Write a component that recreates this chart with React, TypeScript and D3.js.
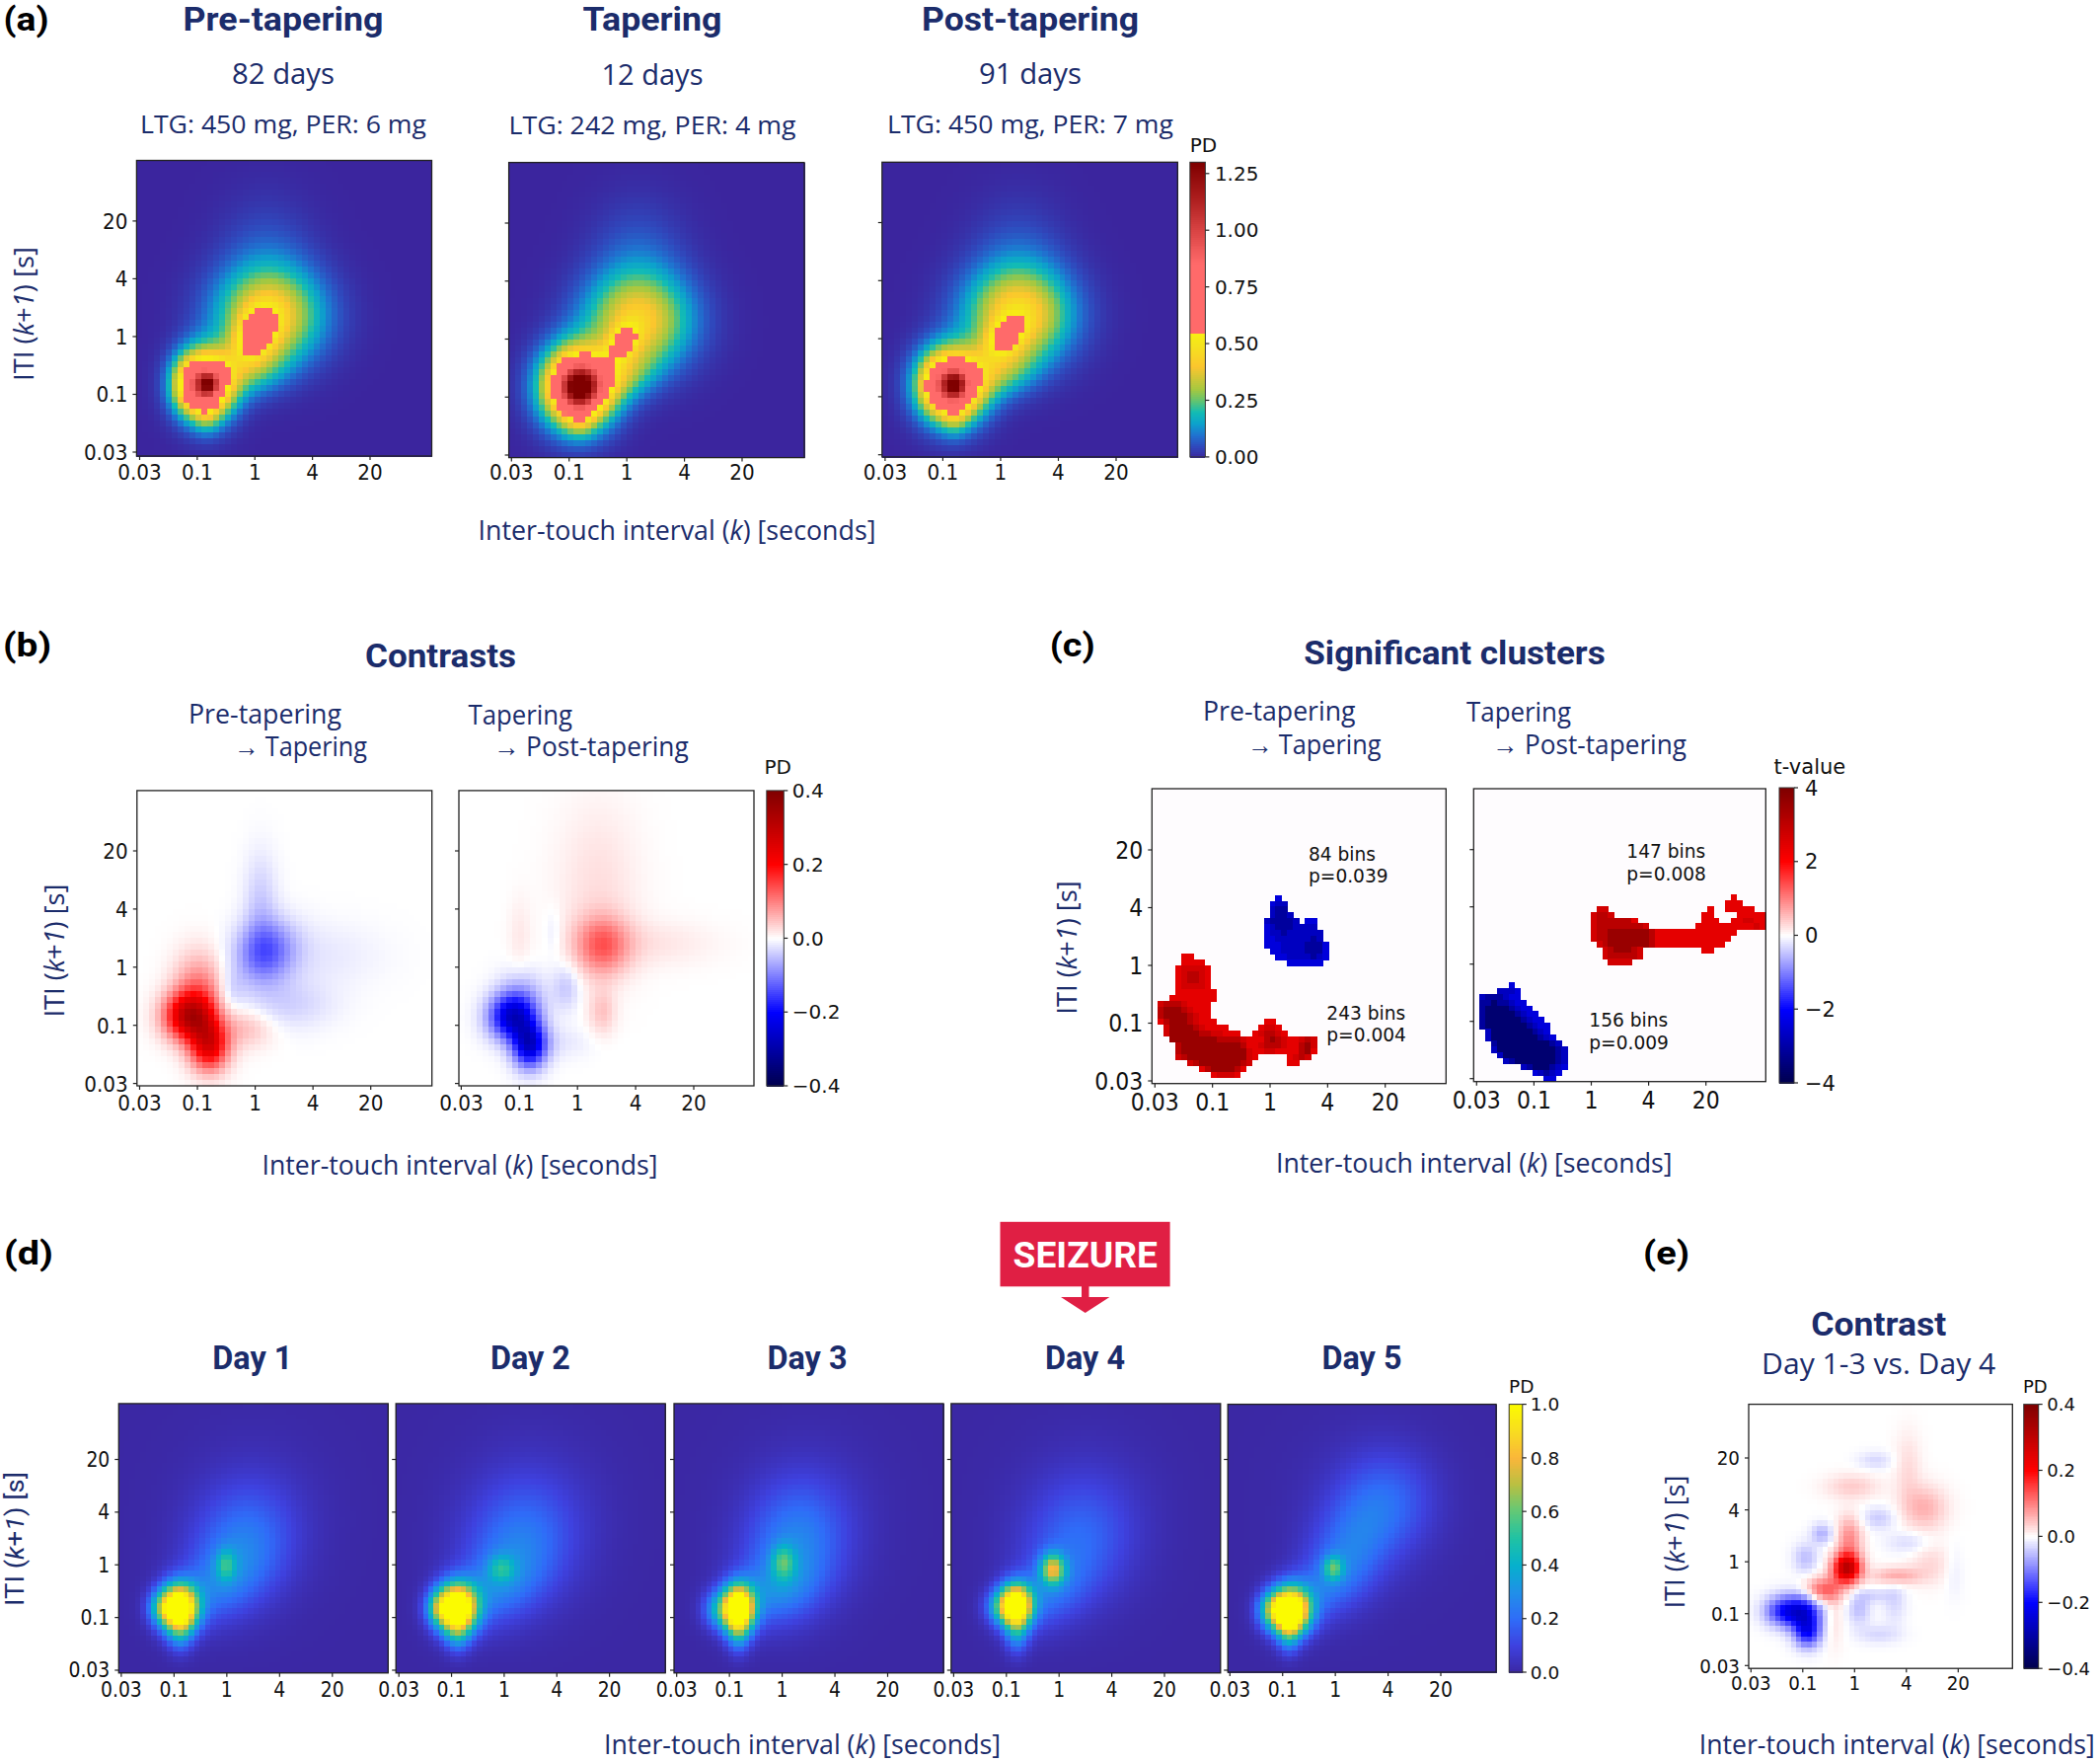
import React from "react";
import * as d3 from "d3";

// Density and contrast maps: the picture's 50x50 grids cannot be read cell by cell, so each map is
// stored as the peaks read off it: [x, y, spreadX, spreadY, tilt, height], position in tick steps
// (0 = 0.03, 1 = 0.1, 2 = 1, 3 = 4, 4 = 20). The cells are estimates built from those peaks.
// The cluster maps in (c) are discrete and stored cell by cell.
type Peak = number[];
const preTapering: Peak[] = [[1.15,1.17,.33,.40,0,.85],[1.2,1.17,.12,.13,0,.42],[.85,1.17,.2,.3,0,.22],[1.17,.65,.15,.22,0,.1],[2.0,2.03,.25,.3,.3,.36],[2.25,2.35,.62,.55,0,.42],[1.95,1.45,.42,.33,.2,.2],[2.2,3.2,.55,.75,0,.07]];
const tapering: Peak[] = [[1.15,1.18,.42,.46,0,.92],[1.2,1.18,.22,.23,0,.52],[1.2,.62,.17,.22,0,.1],[1.94,1.96,.17,.2,.3,.29],[2.2,2.3,.62,.55,0,.40],[1.9,1.4,.42,.33,.2,.2],[2.2,3.2,.55,.75,0,.08]];
const postTapering: Peak[] = [[1.15,1.2,.38,.42,0,.88],[1.2,1.2,.14,.16,0,.45],[.85,1.2,.18,.28,0,.14],[1.2,.65,.15,.22,0,.1],[2.05,2.02,.23,.24,.3,.29],[2.3,2.4,.62,.55,0,.44],[2.0,1.45,.42,.33,.2,.22],[2.3,3.2,.55,.75,0,.07]];
const day1: Peak[] = [[1.1,1.18,.24,.3,0,1.3],[.75,1.18,.18,.22,0,.3],[1.12,.7,.16,.26,0,.2],[1.98,2.0,.13,.2,0,.25],[2.3,2.4,.65,.75,.1,.21],[1.8,1.6,.55,.5,.3,.17],[2.5,3,1,1.1,0,.03]];
const day2: Peak[] = [[1.1,1.18,.26,.31,0,1.3],[.75,1.18,.18,.22,0,.3],[1.12,.7,.16,.26,0,.22],[1.95,1.93,.17,.17,0,.22],[2.3,2.4,.7,.8,.1,.2],[1.8,1.55,.55,.5,.3,.18],[2.5,3,1,1.1,0,.04]];
const day3: Peak[] = [[1.17,1.17,.21,.3,0,1.28],[.78,1.15,.2,.24,0,.28],[1.17,.72,.15,.28,0,.24],[2.02,2.05,.15,.22,0,.3],[2.25,2.4,.65,.8,.1,.24],[1.85,1.5,.55,.45,.2,.19],[2.5,3,1,1.1,0,.03]];
const day4: Peak[] = [[1.18,1.23,.21,.27,0,1.22],[.85,1.2,.2,.22,0,.24],[1.2,.72,.15,.28,0,.26],[1.88,1.92,.16,.2,0,.6],[2.35,2.45,.7,.8,.1,.17],[1.75,1.45,.5,.48,.3,.17],[2.5,3,1,1.1,0,.03]];
const day5: Peak[] = [[1.15,1.13,.25,.3,0,1.35],[.8,1.15,.2,.24,0,.38],[1.12,.68,.14,.25,0,.25],[1.96,1.94,.13,.16,0,.36],[2.3,2.35,.55,.7,.2,.18],[3.0,3.2,.6,.65,0,.15],[1.75,1.55,.5,.48,.4,.16],[2.6,3.1,1,1.1,0,.03]];
const contrastPreTaper: Peak[] = [[.85,1.15,.3,.28,0,.27],[1.2,.65,.24,.3,0,.24],[1.02,1.6,.3,.45,0,.1],[1.85,.95,.33,.24,0,.05],[2.18,2.25,.36,.38,.1,-.125],[2.1,3.1,.2,.6,0,-.04],[2.55,1.35,.55,.3,0,-.035],[3.1,2.2,.75,.4,0,-.018],[1.6,1.6,.15,.25,0,-.03]];
const contrastTaperPost: Peak[] = [[.88,1.14,.28,.27,0,-.25],[1.17,.65,.2,.27,0,-.24],[1.05,1.55,.28,.3,0,-.05],[1.6,.7,.45,.2,0,-.02],[2.42,2.36,.33,.36,0,.115],[3.3,2.4,.75,.28,0,.02],[2.35,3.4,.5,1,0,.025],[1.8,1.65,.17,.28,0,-.045],[2.42,1.22,.17,.28,0,.045],[1.0,2.5,.14,.5,0,.017],[1.58,2.6,.1,.3,0,-.018]];
const contrastSeizure: Peak[] = [[1.03,1.02,.24,.24,0,-.2],[.62,1.05,.25,.2,0,-.16],[1.1,.62,.18,.2,0,-.16],[1.85,1.87,.19,.2,0,.3],[1.4,1.45,.25,.17,0,.13],[1.9,2.45,.17,.3,0,.09],[2.8,1.73,.32,.12,0,.07],[3.47,1.97,.28,.28,0,.03],[1.6,.9,.13,.4,0,.025],[1.95,3.45,.36,.17,0,.04],[3.35,3.04,.3,.3,0,.06],[3.03,3.78,.18,.5,0,.028],[1.38,2.54,.15,.14,0,-.06],[1.06,2.07,.17,.2,0,-.05],[2.08,1.09,.16,.22,0,-.05],[2.46,.6,.3,.13,0,-.03],[2.77,1.23,.16,.3,0,-.03],[2.35,1.35,.25,.1,0,-.03],[2.46,2.84,.24,.15,0,-.04],[3.06,2.37,.3,.15,0,-.03],[2.4,3.95,.24,.12,0,-.03],[3.92,1.83,.13,.35,0,-.015]];

// t-value levels per cell: [row from the top, first column, levels]
type Run = [number, number, string];
const clusterLevels = [0, 2.4, 2.7, 3.1, 3.6];
const preRed: Run[] = [[28,5,"11"],[29,5,"1111"],[30,4,"122221"],[31,4,"123321"],[32,4,"123321"],[33,4,"122221"],[34,4,"1111111"],[35,3,"11111111"],[36,1,"233321111"],[37,1,"344432111"],[38,1,"344443211"],[39,1,"1344432111"],[39,19,"11"],[40,2,"24444321111"],[40,18,"1221"],[41,2,"2444443322111"],[41,17,"123321"],[42,3,"4444444433332"],[42,16,"111343211232"],[43,4,"344444444443"],[43,16,"112333211342"],[44,4,"344444444444"],[44,16,"211221111341"],[45,4,"23444444444421"],[45,23,"1232"],[46,6,"23444444432"],[46,23,"11"],[47,8,"13444431"],[48,10,"12221"]];
const preBlue: Run[] = [[18,21,"1"],[19,20,"122"],[20,20,"233"],[21,20,"2332"],[22,19,"233332"],[22,26,"11"],[23,19,"123332222"],[24,19,"1223222222"],[25,19,"1122222232"],[26,19,"11122223331"],[27,20,"1122223331"],[28,21,"112222321"],[29,23,"111111"]];
const postRed: Run[] = [[18,44,"1"],[19,43,"111"],[20,21,"22"],[20,40,"1"],[20,43,"11111"],[21,20,"2332"],[21,39,"11"],[21,45,"11111"],[22,20,"23333331"],[22,39,"111"],[22,44,"112211"],[23,20,"2333333332"],[23,38,"111111111121"],[24,20,"2334444444311111111111111"],[25,20,"233444444431111111111111"],[26,21,"2344444443111111111111"],[27,22,"2344432"],[27,39,"11"],[28,22,"2333332"],[29,23,"2222"]];
const postBlue: Run[] = [[33,6,"1"],[34,4,"2221"],[35,1,"2333211"],[36,1,"33433211"],[37,1,"344443211"],[38,1,"3444443211"],[39,1,"34444443211"],[40,1,"344444443211"],[41,2,"24444444321"],[42,2,"244444444321"],[43,3,"344444444432"],[44,3,"2444444444432"],[45,4,"244444444432"],[46,5,"23444444432"],[47,8,"23444321"],[48,10,"12321"],[49,12,"11"]];

const xTickLabels = ["0.03", "0.1", "1", "4", "20"];
const pdTicks = [0, 0.25, 0.5, 0.75, 1, 1.25];
const diffTicks = [-0.4, -0.2, 0, 0.2, 0.4];
const tTicks = [-4, -2, 0, 2, 4];
const dayTicks = [0, 0.2, 0.4, 0.6, 0.8, 1];

const turboStops = [0, .05, .1, .15, .2, .25, .3, .4, .5, .544, .546, .85, 1.0, 1.15, 1.3];
const turboColors = ["#3b259e", "#2f49bd", "#1f73d0", "#0ca2cc", "#12bcb4", "#62c470", "#a5c840", "#fbc52e", "#f4e51c", "#f8ee12", "#ff6a6a", "#ff6a6a", "#d94444", "#aa1c1c", "#7f0000"];
const parulaStops = [0, .1, .2, .3, .4, .5, .6, .7, .8, .9, 1];
const parulaColors = ["#3b28a4", "#3e41df", "#2f6cf8", "#2090e8", "#06b0cc", "#1fc2a4", "#60c878", "#b8c042", "#fab63a", "#f8dc20", "#fbfb00"];
const seismicStops = [-1, -.5, 0, .5, 1];
const seismicColors = ["#00004c", "#0000ff", "#ffffff", "#ff0000", "#7f0000"];

const cmap = (stops: number[], colors: string[]) =>
  d3.scaleLinear<string>().domain(stops).range(colors).interpolate(d3.interpolateRgb).clamp(true);
const pdColor = cmap(turboStops, turboColors);
const dayColor = cmap(parulaStops, parulaColors);
const diffColor = cmap(seismicStops.map((s) => s * 0.4), seismicColors);
const tColor = cmap(seismicStops.map((s) => s * 4), seismicColors);

const NAVY = "#1b2c6b";
const SANS = "'Open Sans', sans-serif";
const HEAD = "Roboto, sans-serif";
const MONO = "'DejaVu Sans', sans-serif";
const BINS = d3.range(50);

const peakValue = (peaks: Peak[], u: number, v: number) =>
  d3.sum(peaks, ([cx, cy, sx, sy, rho, amp]) => {
    const a = (u - cx) / sx, b = (v - cy) / sy;
    return amp * Math.exp((-0.5 * (a * a + b * b - 2 * rho * a * b)) / (1 - rho * rho));
  });

type Box = { x0: number; x1: number; y0: number; y1: number; tx: number[]; ty: number[] };
const labelWidth = (s: string, fs: number) => d3.sum(s.split(""), (c) => (c === "." ? 0.318 : 0.636)) * fs;

function Frame({ b, fs, lab, yLabels, children }: { b: Box; fs: number; lab: number; yLabels: boolean; children?: React.ReactNode }) {
  const xU = d3.scaleLinear().domain([0, 4]).range(b.tx);
  const yU = d3.scaleLinear().domain([0, 4]).range(b.ty);
  const tall = fs * 1.1;
  return (
    <g>
      {children}
      <rect x={b.x0} y={b.y0} width={b.x1 - b.x0} height={b.y1 - b.y0} fill="none" stroke="#222" strokeWidth={1.3} />
      {xTickLabels.map((t, i) => (
        <g key={t}>
          <line x1={xU(i)} x2={xU(i)} y1={b.y1} y2={b.y1 + 4} stroke="#222" strokeWidth={1.2} />
          <text x={xU(i)} y={lab} textAnchor="middle" fontFamily={MONO} fontSize={tall} fill="#111" textLength={labelWidth(t, fs)} lengthAdjust="spacingAndGlyphs">{t}</text>
          <line x1={b.x0 - 4} x2={b.x0} y1={yU(i)} y2={yU(i)} stroke="#222" strokeWidth={1.2} />
          {yLabels && <text x={b.x0 - 9} y={yU(i) + tall * 0.36} textAnchor="end" fontFamily={MONO} fontSize={tall} fill="#111" textLength={labelWidth(t, fs)} lengthAdjust="spacingAndGlyphs">{t}</text>}
        </g>
      ))}
    </g>
  );
}

function Heat({ b, peaks, color, fs, lab, yLabels }: { b: Box; peaks: Peak[]; color: (v: number) => string; fs: number; lab: number; yLabels: boolean }) {
  const xU = d3.scaleLinear().domain([0, 4]).range(b.tx);
  const yU = d3.scaleLinear().domain([0, 4]).range(b.ty);
  const xB = d3.scaleBand<number>().domain(BINS).range([b.x0, b.x1]);
  const yB = d3.scaleBand<number>().domain(BINS).range([b.y0, b.y1]);
  const w = xB.bandwidth(), h = yB.bandwidth();
  return (
    <Frame b={b} fs={fs} lab={lab} yLabels={yLabels}>
      <g shapeRendering="crispEdges">
        {BINS.map((r) =>
          BINS.map((c) => (
            <rect key={r * 50 + c} x={xB(c)} y={yB(r)} width={w + 0.6} height={h + 0.6}
              fill={color(peakValue(peaks, xU.invert(xB(c)! + w / 2), yU.invert(yB(r)! + h / 2)))} />
          ))
        )}
      </g>
    </Frame>
  );
}

function Clusters({ b, red, blue, fs, lab, yLabels }: { b: Box; red: Run[]; blue: Run[]; fs: number; lab: number; yLabels: boolean }) {
  const xB = d3.scaleBand<number>().domain(BINS).range([b.x0, b.x1]);
  const yB = d3.scaleBand<number>().domain(BINS).range([b.y0, b.y1]);
  const cells = (runs: Run[], sign: number) =>
    runs.flatMap(([r, c0, s]) =>
      s.split("").map((ch, i) => (
        <rect key={`${sign}-${r}-${c0 + i}`} x={xB(c0 + i)} y={yB(r)} width={xB.bandwidth() + 0.5} height={yB.bandwidth() + 0.5}
          fill={tColor(sign * clusterLevels[+ch])} />
      ))
    );
  return (
    <Frame b={b} fs={fs} lab={lab} yLabels={yLabels}>
      <rect x={b.x0} y={b.y0} width={b.x1 - b.x0} height={b.y1 - b.y0} fill="#fefcfe" />
      <g shapeRendering="crispEdges">
        {cells(red, 1)}
        {cells(blue, -1)}
      </g>
    </Frame>
  );
}

function ColorBar({ x0, x1, y0, y1, domain, ticks, color, fmt, fs, label, labelX, labelY, labelPad }: {
  x0: number; x1: number; y0: number; y1: number; domain: [number, number]; ticks: number[]; color: (v: number) => string;
  fmt: (v: number) => string; fs: number; label: string; labelX: number; labelY: number; labelPad: number;
}) {
  const y = d3.scaleLinear().domain(domain).range([y1, y0]);
  const steps = d3.range(0, 150);
  const st = (y1 - y0) / 150;
  return (
    <g>
      <g shapeRendering="crispEdges">
        {steps.map((i) => (
          <rect key={i} x={x0} y={y1 - (i + 1) * st} width={x1 - x0} height={st + 0.6} fill={color(y.invert(y1 - (i + 0.5) * st))} />
        ))}
      </g>
      <rect x={x0} y={y0} width={x1 - x0} height={y1 - y0} fill="none" stroke="#333" strokeWidth={1} />
      {ticks.map((t) => (
        <g key={t}>
          <line x1={x1} x2={x1 + 4} y1={y(t)} y2={y(t)} stroke="#222" strokeWidth={1.2} />
          <text x={x1 + labelPad} y={y(t) + fs * 0.36} fontFamily={MONO} fontSize={fs} fill="#111">{fmt(t).replace("-", "\u2212")}</text>
        </g>
      ))}
      <text x={labelX} y={labelY} fontFamily={MONO} fontSize={fs} fill="#111">{label}</text>
    </g>
  );
}

function T({ x, y, w, s, size = 27, bold = false, color = NAVY, anchor = "middle" }: { x: number; y: number; w: number; s: string; size?: number; bold?: boolean; color?: string; anchor?: string }) {
  return (
    <text x={x} y={y} textAnchor={anchor} fontFamily={bold ? HEAD : SANS} fontSize={size} fontWeight={bold ? 700 : 400} fill={color} textLength={w} lengthAdjust="spacingAndGlyphs">{s}</text>
  );
}

function XLabel({ x, y, w }: { x: number; y: number; w: number }) {
  return (
    <text x={x} y={y} textAnchor="middle" fontFamily={SANS} fontSize={27} fill={NAVY} textLength={w} lengthAdjust="spacingAndGlyphs">
      Inter-touch interval (<tspan fontStyle="italic">k</tspan>) [seconds]
    </text>
  );
}

function YLabel({ x, y, len, family = SANS, size = 27 }: { x: number; y: number; len: number; family?: string; size?: number }) {
  return (
    <text transform={`translate(${x},${y}) rotate(-90)`} textAnchor="middle" fontFamily={family} fontSize={size} fill={NAVY} textLength={len} lengthAdjust="spacingAndGlyphs">
      ITI (<tspan fontStyle="italic">k</tspan>+<tspan fontStyle="italic">1</tspan>) [s]
    </text>
  );
}

const f2 = (v: number) => v.toFixed(2);
const f1 = (v: number) => v.toFixed(1);
const f0 = (v: number) => v.toFixed(0);

export default function App() {
  const a1: Box = { x0: 138.4, x1: 437.5, y0: 162.5, y1: 462, tx: [141.5, 375], ty: [458, 223.9] };
  const a2: Box = { x0: 515.6, x1: 815, y0: 164.6, y1: 463.6, tx: [518.3, 752], ty: [461, 226] };
  const a3: Box = { x0: 893.8, x1: 1193.3, y0: 164.3, y1: 462.9, tx: [896.9, 1131], ty: [460.7, 225.5] };
  const b1: Box = { x0: 138.8, x1: 437.7, y0: 800.9, y1: 1100, tx: [141.5, 375.7], ty: [1097.6, 862] };
  const b2: Box = { x0: 465, x1: 764, y0: 800.9, y1: 1100, tx: [467.4, 703], ty: [1097.6, 862] };
  const c1: Box = { x0: 1167.3, x1: 1465.3, y0: 799, y1: 1097.7, tx: [1170.3, 1403.7], ty: [1095, 861] };
  const c2: Box = { x0: 1493.3, x1: 1789.3, y0: 799, y1: 1095.7, tx: [1496.3, 1728.7], ty: [1092.7, 860.7] };
  const dy = { y0: 1421.9, y1: 1694.8, ty: [1692, 1478.5] };
  const d1: Box = { x0: 120.3, x1: 393.3, tx: [122.9, 336.8], ...dy };
  const d2: Box = { x0: 401.2, x1: 674.2, tx: [404.2, 617.6], ...dy };
  const d3b: Box = { x0: 683, x1: 956, tx: [685.7, 899.5], ...dy };
  const d4: Box = { x0: 963.8, x1: 1236.8, tx: [966.4, 1180], ...dy };
  const d5: Box = { x0: 1244.2, x1: 1516.1, y0: 1422.6, y1: 1694, ty: [1692, 1478.5], tx: [1246.3, 1460] };
  const e: Box = { x0: 1772, x1: 2039.3, y0: 1422.6, y1: 1690.2, tx: [1774.3, 1984.3], ty: [1687.3, 1477] };

  return (
    <svg width={2128} height={1785} viewBox="0 0 2128 1785" style={{ position: "absolute", left: 0, top: 0, background: "#fff" }}>
      <T x={3.5} y={31} w={46} s="(a)" size={33} bold color="#000" anchor="start" />
      <T x={3} y={665} w={49} s="(b)" size={33} bold color="#000" anchor="start" />
      <T x={1063.7} y={665} w={46} s="(c)" size={33} bold color="#000" anchor="start" />
      <T x={4} y={1281} w={50} s="(d)" size={33} bold color="#000" anchor="start" />
      <T x={1665} y={1281} w={47} s="(e)" size={33} bold color="#000" anchor="start" />

      <T x={287} y={30.5} w={203} s="Pre-tapering" size={32.5} bold />
      <T x={661} y={31} w={141} s="Tapering" size={32.5} bold />
      <T x={1044} y={30.5} w={220} s="Post-tapering" size={32.5} bold />
      <T x={287} y={85} w={104} s="82 days" size={30} />
      <T x={661} y={86} w={103} s="12 days" size={30} />
      <T x={1044} y={85} w={104} s="91 days" size={30} />
      <T x={287} y={135} w={290} s="LTG: 450 mg, PER: 6 mg" size={26} />
      <T x={661} y={136} w={291} s="LTG: 242 mg, PER: 4 mg" size={26} />
      <T x={1044} y={135} w={290} s="LTG: 450 mg, PER: 7 mg" size={26} />
      <Heat b={a1} peaks={preTapering} color={pdColor} fs={20} lab={486.4} yLabels />
      <Heat b={a2} peaks={tapering} color={pdColor} fs={20} lab={486.4} yLabels={false} />
      <Heat b={a3} peaks={postTapering} color={pdColor} fs={20} lab={486.4} yLabels={false} />
      <ColorBar x0={1205.8} x1={1221.4} y0={164.3} y1={462.9} domain={[0, 1.3]} ticks={pdTicks} color={pdColor} fmt={f2} fs={20} label="PD" labelX={1205.8} labelY={154} labelPad={9.5} />
      <YLabel x={33.5} y={318} len={136} />
      <XLabel x={686} y={547} w={403} />

      <T x={446.5} y={675.5} w={153} s="Contrasts" size={33} bold />
      <T x={191} y={732.5} w={155} s="Pre-tapering" anchor="start" />
      <T x={237} y={766} w={135} s="→ Tapering" anchor="start" />
      <T x={474.5} y={733.6} w={105.5} s="Tapering" anchor="start" />
      <T x={500} y={766.4} w={197.7} s="→ Post-tapering" anchor="start" />
      <Heat b={b1} peaks={contrastPreTaper} color={diffColor} fs={20} lab={1125} yLabels />
      <Heat b={b2} peaks={contrastTaperPost} color={diffColor} fs={20} lab={1125} yLabels={false} />
      <ColorBar x0={776.8} x1={794.3} y0={800.9} y1={1100} domain={[-0.4, 0.4]} ticks={diffTicks} color={diffColor} fmt={f1} fs={20} label="PD" labelX={774.5} labelY={784} labelPad={8.5} />
      <YLabel x={64.7} y={963} len={135} />
      <XLabel x={466} y={1190} w={401} />

      <T x={1474} y={673} w={305.5} s="Significant clusters" size={33} bold />
      <T x={1219} y={730} w={154.6} s="Pre-tapering" anchor="start" />
      <T x={1264} y={763.8} w={135.4} s="→ Tapering" anchor="start" />
      <T x={1486} y={730.7} w={106} s="Tapering" anchor="start" />
      <T x={1512} y={764} w={197} s="→ Post-tapering" anchor="start" />
      <Clusters b={c1} red={preRed} blue={preBlue} fs={22} lab={1124.5} yLabels />
      <Clusters b={c2} red={postRed} blue={postBlue} fs={22} lab={1122.7} yLabels={false} />
      <ColorBar x0={1803} x1={1818} y0={798} y1={1097} domain={[-4, 4]} ticks={tTicks} color={tColor} fmt={f0} fs={21} label="t-value" labelX={1797.6} labelY={784} labelPad={11} />
      {[
        [1326, 871.7, "84 bins"], [1326, 894, "p=0.039"],
        [1344.3, 1032.7, "243 bins"], [1344.3, 1055, "p=0.004"],
        [1648.3, 869.3, "147 bins"], [1648.3, 891.7, "p=0.008"],
        [1610.3, 1040, "156 bins"], [1610.3, 1062.7, "p=0.009"],
      ].map(([x, y, s]) => (
        <text key={String(s) + x} x={x as number} y={y as number} fontFamily={MONO} fontSize={18.6} fill="#111">{s}</text>
      ))}
      <YLabel x={1091} y={960} len={135.5} />
      <XLabel x={1493.7} y={1188} w={401.5} />

      <rect x={1013.5} y={1237.8} width={172.1} height={65.5} fill="#e01f44" />
      <path d={`M1096 1303H1103.5V1314H1124.4L1099.7 1330L1075 1314H1096Z`} fill="#e01f44" />
      <T x={1099.8} y={1284} w={146.4} s="SEIZURE" size={37} bold color="#fff" />
      {[["Day 1", 255.8], ["Day 2", 537.4], ["Day 3", 818], ["Day 4", 1099.5], ["Day 5", 1380]].map(([s, x]) => (
        <T key={s as string} x={x as number} y={1386.5} w={81} s={s as string} size={33} bold />
      ))}
      <Heat b={d1} peaks={day1} color={dayColor} fs={18.8} lab={1718.5} yLabels />
      <Heat b={d2} peaks={day2} color={dayColor} fs={18.8} lab={1718.5} yLabels={false} />
      <Heat b={d3b} peaks={day3} color={dayColor} fs={18.8} lab={1718.5} yLabels={false} />
      <Heat b={d4} peaks={day4} color={dayColor} fs={18.8} lab={1718.5} yLabels={false} />
      <Heat b={d5} peaks={day5} color={dayColor} fs={18.8} lab={1718.5} yLabels={false} />
      <ColorBar x0={1529.2} x1={1542.8} y0={1422.6} y1={1694} domain={[0, 1]} ticks={dayTicks} color={dayColor} fmt={f1} fs={18.5} label="PD" labelX={1529} labelY={1410.5} labelPad={8} />
      <YLabel x={24} y={1559} len={136} family={HEAD} size={25} />
      <XLabel x={813} y={1777} w={402} />

      <T x={1903.7} y={1352.8} w={137} s="Contrast" size={33} bold />
      <T x={1903.7} y={1392} w={237.3} s="Day 1-3 vs. Day 4" size={30} />
      <Heat b={e} peaks={contrastSeizure} color={diffColor} fs={18.3} lab={1712} yLabels />
      <ColorBar x0={2050.7} x1={2065.7} y0={1422.6} y1={1690.2} domain={[-0.4, 0.4]} ticks={diffTicks} color={diffColor} fmt={f1} fs={18} label="PD" labelX={2050} labelY={1410.5} labelPad={8.6} />
      <YLabel x={1706.7} y={1562} len={135} />
      <XLabel x={1922.2} y={1777} w={401} />
    </svg>
  );
}
